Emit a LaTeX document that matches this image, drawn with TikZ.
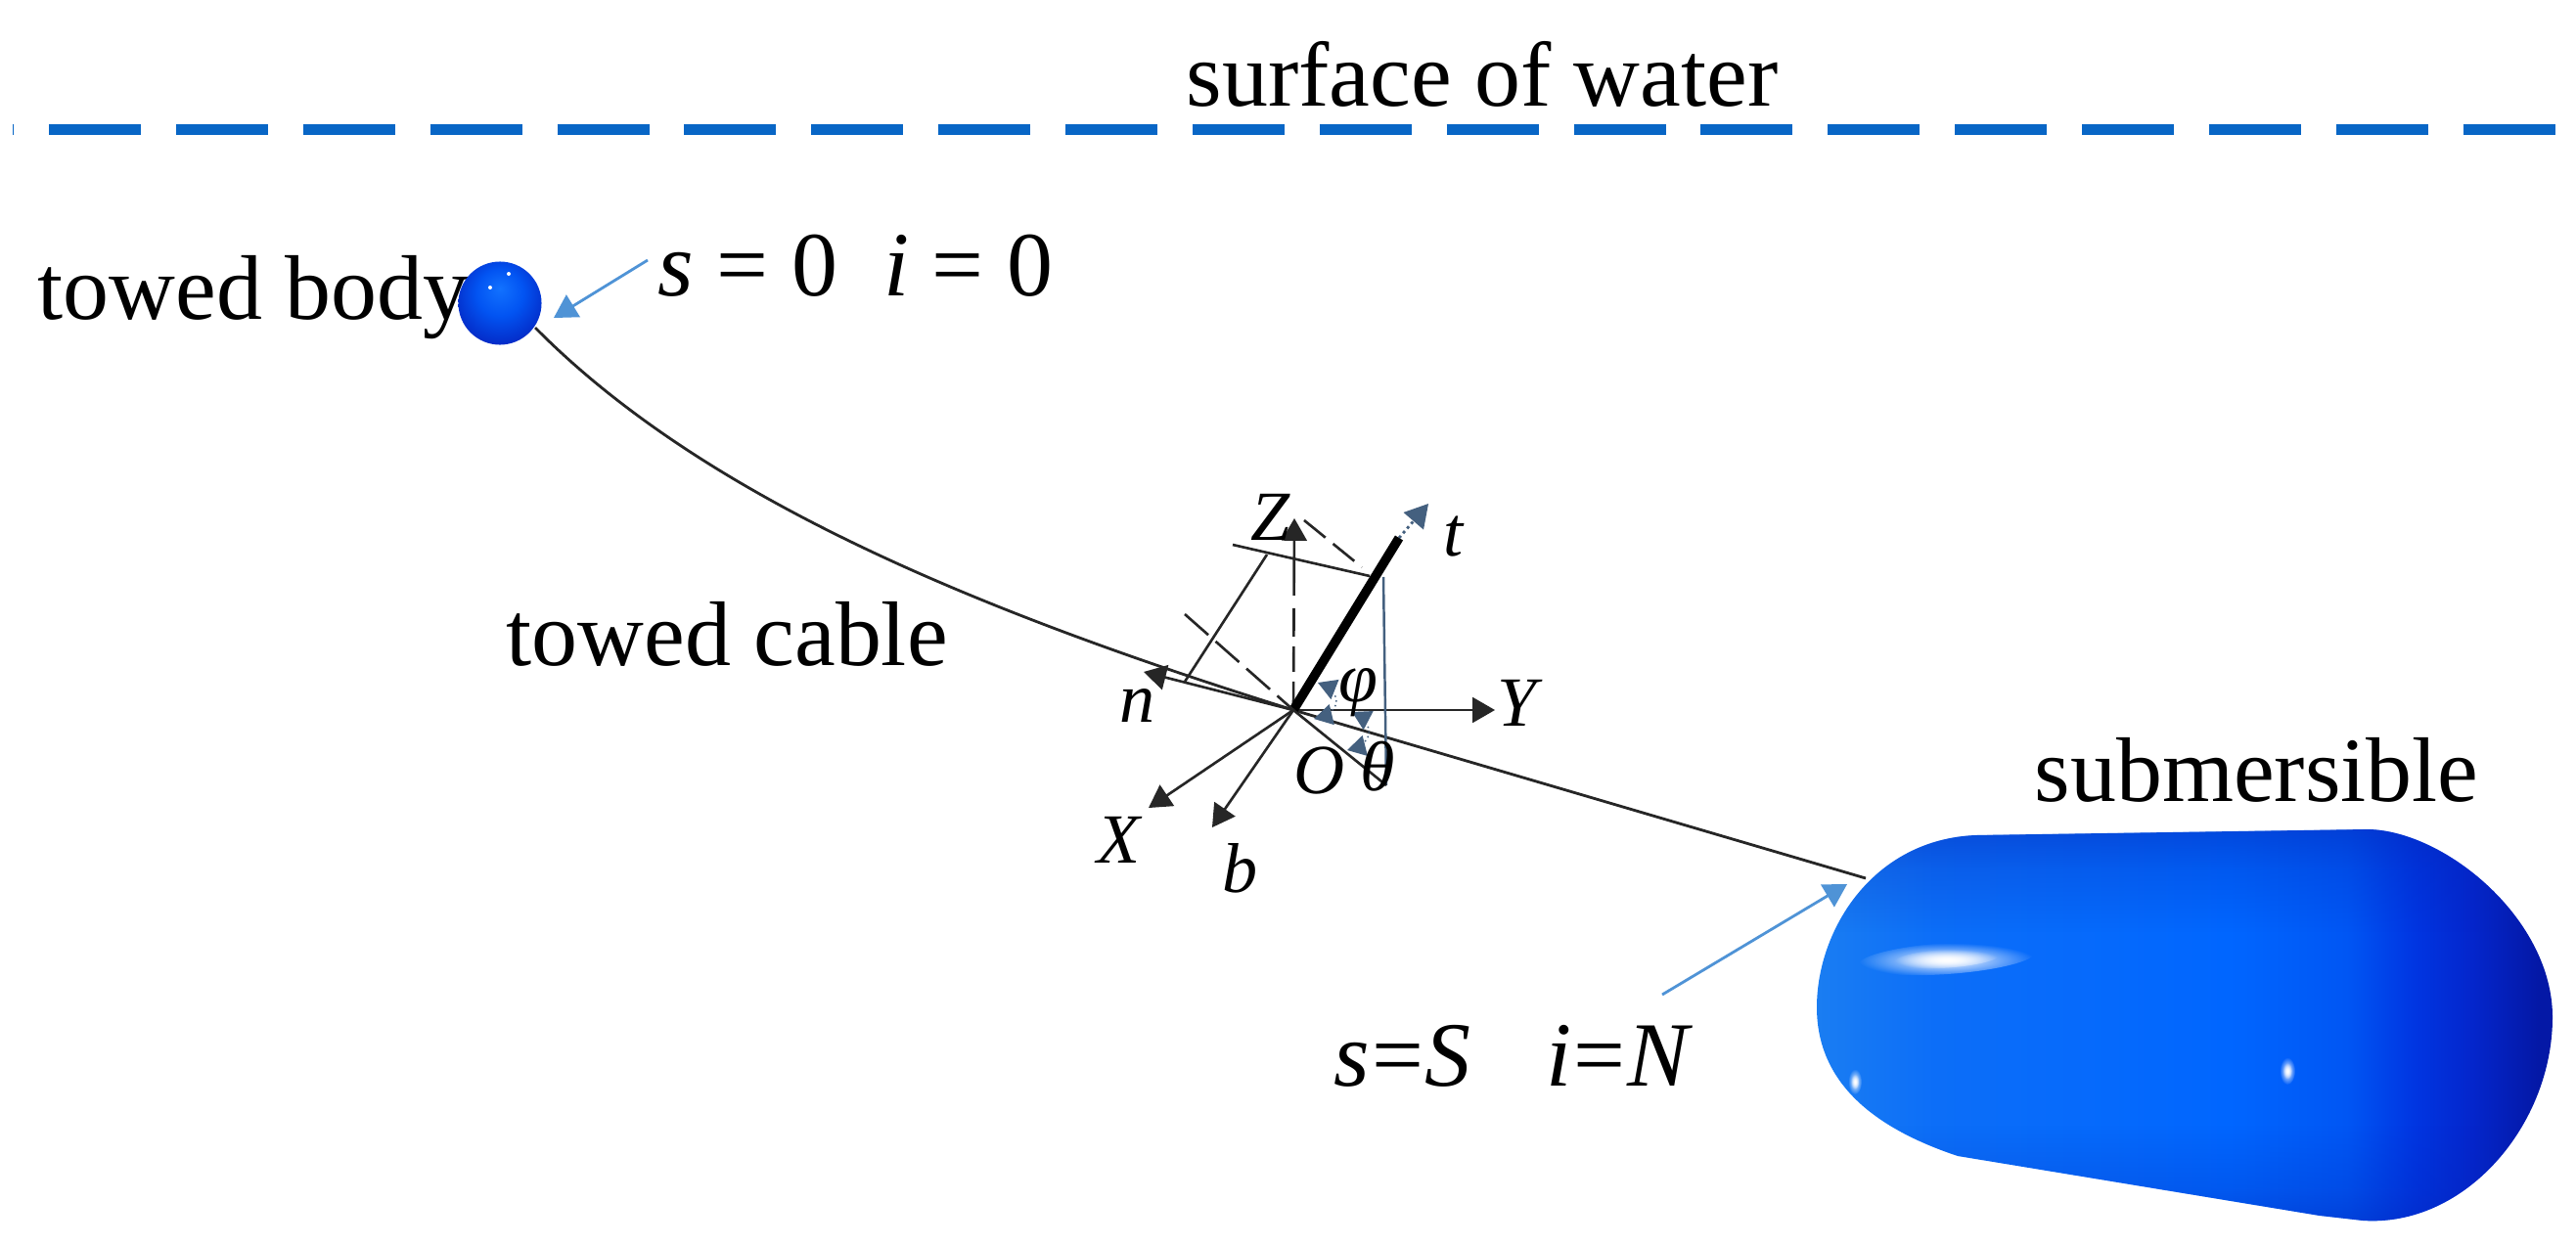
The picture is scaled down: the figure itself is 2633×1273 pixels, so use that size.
\documentclass[tikz,border=0pt]{standalone}
\usepackage{fontspec}
\setmainfont{Liberation Serif}
\usepackage{tikz}
\usetikzlibrary{arrows}
\usetikzlibrary{fadings}

\definecolor{waterblue}{HTML}{0866C6}
\definecolor{calloutblue}{HTML}{4F93D6}
\definecolor{tipblue}{HTML}{0F6CC0}
\definecolor{slateblue}{HTML}{44607F}
\definecolor{subedge}{HTML}{0524B4}
\definecolor{subA}{HTML}{1A7DF2}
\definecolor{subB}{HTML}{0C6EF8}
\definecolor{subC}{HTML}{0066FF}
\definecolor{subD}{HTML}{0056F4}
\definecolor{subE}{HTML}{0036E2}
\definecolor{subF}{HTML}{0426CC}
\definecolor{subG}{HTML}{0418A6}
\definecolor{bodyA}{HTML}{1272FF}
\definecolor{bodyB}{HTML}{0254F2}
\definecolor{bodyC}{HTML}{0428C4}
\definecolor{bodyD}{HTML}{0416A0}

\pgfdeclarehorizontalshading{subshade}{100bp}{
	color(0bp)=(subA); color(25bp)=(subA); color(33bp)=(subB); color(53bp)=(subC);
	color(61bp)=(subD); color(65.5bp)=(subE); color(69.5bp)=(subF); color(74bp)=(subG); color(100bp)=(subG)}
\pgfdeclareradialshading{bodyshade}{\pgfpoint{0bp}{9bp}}{
	color(0bp)=(bodyA); color(14bp)=(bodyB); color(30bp)=(bodyC); color(50bp)=(bodyD)}

\pgfdeclareverticalshading{subedgeshade}{100bp}{
	color(0bp)=(pgftransparent!55); color(25bp)=(pgftransparent!55); color(30bp)=(pgftransparent!80); color(38bp)=(pgftransparent!100);
	color(62bp)=(pgftransparent!100); color(70bp)=(pgftransparent!80); color(75bp)=(pgftransparent!55); color(100bp)=(pgftransparent!55)}
\pgfdeclarefading{subfade}{\pgfuseshading{subedgeshade}}
\tikzfading[name=glowfade, inner color=transparent!0, outer color=transparent!100]

\tikzset{
	textlabel/.style={anchor=base west, inner sep=0pt, font=\fontsize{26.7}{30}\selectfont},
	axislabel/.style={anchor=base west, inner sep=0pt, font=\fontsize{20.5}{24}\selectfont\itshape},
	cable/.style={line width=0.8pt, black!85},
	axisline/.style={line width=0.75pt, black!85},
	axisarrow/.style={axisline, -triangle 60},
	callout/.style={line width=0.8pt, calloutblue, -triangle 60},
	dotted arrow/.style={line width=0.42pt, slateblue, densely dotted, triangle 60-triangle 60},
	glow/.style={white, path fading=glowfade},
	subpath/.style={insert path={(2020,854) -- (2421,848) .. controls (2500,850) and (2609,940) .. (2609,1040)
		.. controls (2609,1150) and (2520,1255) .. (2415,1248) -- (2371,1243) -- (2001,1182)
		.. controls (1920,1155) and (1857,1110) .. (1857,1030) .. controls (1857,950) and (1915,858) .. (2020,854) -- cycle}}
}

\begin{document}
\begin{tikzpicture}[x=0.01cm, y=-0.01cm]
	\useasboundingbox (0,0) rectangle (2633,1273);

	% water line
	\coordinate (water0) at (13,132.5);
	\coordinate (water1) at (2633,132.5);
	\draw [waterblue, line width=3.1pt, dash pattern=on 0.94cm off 0.358cm, dash phase=0.928cm] (water0) -- (water1);

	\foreach \x/\y/\n/\t in {1212/109/water/surface of water, 38/327/towed/towed body, 517/680/cablelabel/towed cable, 2079/819/sub/submersible}{
		\node [textlabel] (\n) at (\x,\y) {\t};
	}
	\node [textlabel] (bodylabel) at (672,302) {\textit{s} = 0\hspace{0.5em}\textit{i} = 0};
	\node [textlabel] (sublabel) at (1363,1110) {\textit{s}\kern0.02em=\kern0.02em\textit{S}\hspace{0.82em}\textit{i}\kern0.02em=\kern0.02em\textit{N}};

	% cable
	\coordinate (O) at (1322,726);
	\coordinate (cable0) at (547,335);
	\coordinate (cable1) at (1907,898);
	\draw [cable] (cable0) .. controls (720,510) and (1000,625) .. (O) -- (cable1);

	% towed body
	\node [circle, minimum size=0.85cm, inner sep=0pt, shading=bodyshade] (body) at (511,310) {};
	\fill [white] (520,280) circle (2);
	\fill [white] (501,294) circle (2);

	% submersible
	\shade [shading=subshade, shading angle=0, subpath];
	\fill [subedge, path fading=subfade, subpath];
	\foreach \k in {1,0.6}{
		\fill [glow, rotate around={4:(1990,980)}] (1990,980) ellipse ({90*\k} and {16*\k});
		\fill [glow] (1896,1106) ellipse ({7*\k} and {13*\k});
		\fill [glow] (2338,1095) ellipse ({8*\k} and {14*\k});
	}

	% callouts
	\coordinate (bodyfrom) at (662,266);
	\coordinate (bodyto) at (566,325);
	\coordinate (subfrom) at (1699,1017);
	\coordinate (subto) at (1888,904);
	\draw [callout] (bodyfrom) -- (bodyto);
	\draw [callout] (subfrom) -- (subto);

	% frame at O
	\foreach \n/\x/\y in {Ztip/1323/530, Ytip/1528/726, ntip/1169/687, Xtip/1174/826, btip/1239/846}{
		\coordinate (\n) at (\x,\y);
	}
	\foreach \n in {Ytip, ntip, Xtip, btip}{
		\draw [axisarrow] (O) -- (\n);
	}
	\draw [axisline, triangle 60-, dash pattern=on 0.75cm off 0.13cm on 0.29cm off 0.1cm on 0.26cm off 0.1cm on 0.3cm] (Ztip) -- (O);

	\coordinate (ttop) at (1430,550);
	\coordinate (ttip) at (1460,515);
	\coordinate (tfoot) at (1400,589);
	\coordinate (tleft) at (1260,557);
	\coordinate (nup) at (1295,567);
	\coordinate (nfoot) at (1211,697);
	\coordinate (zdash0) at (1333,532);
	\coordinate (zdash1) at (1392,580);
	\coordinate (xdash) at (1211,628);
	\coordinate (vtop) at (1414,590);
	\coordinate (vend) at (1417,803);

	\draw [slateblue, line width=0.8pt, densely dotted, -triangle 60] (ttop) -- (ttip);
	\draw [line width=2.7pt, black] (O) -- (ttop);
	\draw [axisline] (tleft) -- (tfoot);
	\draw [axisline] (nup) -- (nfoot);
	\draw [axisline, dash pattern=on 0.28cm off 0.1cm] (zdash0) -- (zdash1);
	\draw [axisline, dash pattern=on 0.32cm off 0.1cm] (xdash) -- (O);
	\draw [slateblue, line width=0.7pt] (vtop) -- (vend);
	\draw [axisline] (O) -- (vend);

	% angle marks
	\coordinate (phi0) at (1347,698);
	\coordinate (phi1) at (1343,735);
	\coordinate (theta0) at (1382,728);
	\coordinate (theta1) at (1377,767);
	\draw [dotted arrow] (phi0) .. controls (1372,708) and (1372,728) .. (phi1);
	\draw [dotted arrow] (theta0) .. controls (1405,740) and (1405,760) .. (theta1);

	\foreach \x/\y/\n/\t in {1278/552/Zlabel/Z, 1475/568/tlabel/t, 1144/738/nlabel/n, 1530/742/Ylabel/Y, 1121/882/Xlabel/X, 1249/912/blabel/b, 1322/811/Olabel/O, 1390/808/thetalabel/θ, 1368/717/philabel/φ}{
		\node [axislabel] (\n) at (\x,\y) {\t};
	}
\end{tikzpicture}
\end{document}
